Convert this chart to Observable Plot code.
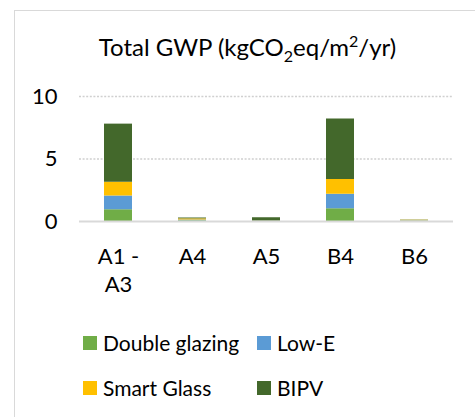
<!DOCTYPE html>
<html>
<head>
<meta charset="utf-8">
<script src="https://cdn.jsdelivr.net/npm/d3@7"></script>
<script src="https://cdn.jsdelivr.net/npm/@observablehq/plot@0.6"></script>
<style>
  html, body { margin: 0; padding: 0; background: #fff; }
  body { width: 475px; height: 417px; position: relative; overflow: hidden; font-family: Lato, "Open Sans", sans-serif; color: #000; }
  #frame { position: absolute; left: 14px; top: 10px; width: 520px; height: 470px; border: 1.5px solid #d9d9d9; box-sizing: border-box; }
  #chart { position: absolute; left: 0; top: 0; }
  #title { position: absolute; left: 0; width: 495px; top: 32px; text-align: center; font-size: 24px; line-height: 30px; }
  #title sub, #title sup { font-size: 16px; line-height: 0; }
  .leg { position: absolute; font-size: 21px; line-height: 24px; display: flex; align-items: center; white-space: nowrap; }
  .sw { width: 14px; height: 14px; margin-right: 6px; display: inline-block; }
</style>
</head>
<body>
<div id="frame"></div>
<div id="chart"></div>
<div id="title">Total GWP (kgCO<sub>2</sub>eq/m<sup>2</sup>/yr)</div>
<div id="legend"></div>
<script>
const categories = ["A1 - A3", "A4", "A5", "B4", "B6"];
const tickLabels = ["A1 -\nA3", "A4", "A5", "B4", "B6"];
const seriesNames = ["Double glazing", "Low-E", "Smart Glass", "BIPV"];
const seriesColors = ["#70ad47", "#5b9bd5", "#ffc000", "#43682b"];
const doubleGlazing = [0.94, 0.06, 0.01, 1.02, 0.03];
const lowE = [1.10, 0.06, 0.01, 1.16, 0.03];
const smartGlass = [1.10, 0.09, 0.01, 1.18, 0.04];
const bipv = [4.65, 0.07, 0.27, 4.84, 0.02];
const yTicks = [0, 5, 10];

const seriesValues = [doubleGlazing, lowE, smartGlass, bipv];
const rows = [];
seriesNames.forEach((s, si) => categories.forEach((c, ci) => rows.push({category: c, series: s, value: seriesValues[si][ci]})));

const chart = Plot.plot({
  width: 475,
  height: 417,
  marginLeft: 79,
  marginRight: 22,
  marginTop: 96,
  marginBottom: 196,
  style: {fontFamily: "Lato, 'Open Sans', sans-serif", color: "#000", background: "transparent"},
  x: {domain: categories, paddingInner: 0.626, paddingOuter: 0.313, label: null},
  y: {domain: [0, 10], label: null},
  color: {domain: seriesNames, range: seriesColors},
  marks: [
    Plot.ruleY(yTicks.filter(d => d > 0), {stroke: "#d0d0d0", strokeWidth: 1.5, strokeDasharray: "2,1.6"}),
    Plot.barY(rows, {x: "category", y: "value", fill: "series", order: seriesNames}),
    Plot.ruleY([0], {stroke: "#d9d9d9", strokeWidth: 2}),
    Plot.axisY({ticks: yTicks, tickSize: 0, tickPadding: 22, fontSize: 22, label: null}),
    Plot.axisX({tickSize: 0, tickPadding: 22, fontSize: 22, lineHeight: 1.3, label: null,
      tickFormat: d => tickLabels[categories.indexOf(d)]})
  ]
});
document.getElementById("chart").appendChild(chart);

const legendPos = [[83, 343], [257, 343], [83, 388], [257, 388]];
const leg = document.getElementById("legend");
seriesNames.forEach((s, i) => {
  const el = document.createElement("div");
  el.className = "leg";
  el.style.left = legendPos[i][0] + "px";
  el.style.top = (legendPos[i][1] - 12) + "px";
  el.innerHTML = `<span class="sw" style="background:${seriesColors[i]}"></span>${s}`;
  leg.appendChild(el);
});
</script>
</body>
</html>
